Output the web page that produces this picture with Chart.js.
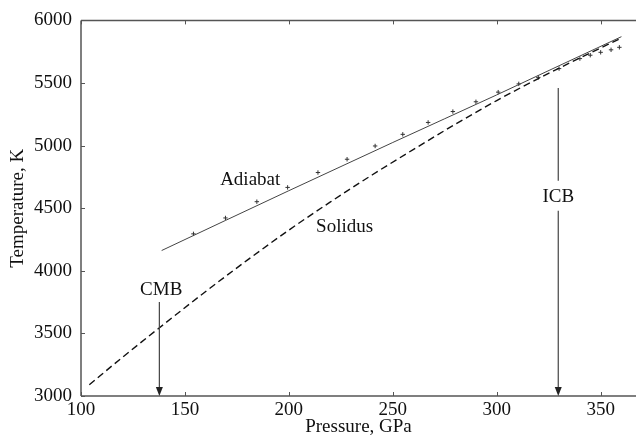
<!DOCTYPE html>
<html>
<head>
<meta charset="utf-8">
<script src="https://cdn.jsdelivr.net/npm/chart.js@4.4.1/dist/chart.umd.min.js"></script>
<style>
  html, body { margin: 0; padding: 0; background: #fff; }
  canvas { display: block; }
</style>
</head>
<body>
<canvas id="chart" width="641" height="438"></canvas>
<script>
// Axis ticks
const xTicks = [100, 150, 200, 250, 300, 350];
const yTicks = [3000, 3500, 4000, 4500, 5000, 5500, 6000];

// Solidus (dashed curve)
const solidusP = [104, 120, 140, 160, 180, 200, 220, 240, 260, 280, 300, 320, 340, 360];
const solidusT = [3090, 3310, 3575, 3835, 4085, 4325, 4550, 4765, 4970, 5170, 5360, 5535, 5700, 5860];

// Adiabat (solid line)
const adiabatP = [138.8, 200, 250, 300, 330, 360];
const adiabatT = [4162, 4640, 5025, 5405, 5638, 5870];

// Adiabat computed points (small crosses)
const pointsP = [154.1, 169.5, 184.6, 199.4, 214.0, 228.0, 241.5, 254.8, 267.0, 278.9, 290.0, 300.7, 310.6, 320, 330, 340, 345, 350, 355, 359];
const pointsT = [4295, 4422, 4552, 4666, 4785, 4891, 4997, 5090, 5185, 5272, 5350, 5427, 5493, 5545, 5615, 5695, 5722, 5745, 5765, 5785];

// Text labels on the plot
const noteText = ['Adiabat', 'Solidus', 'CMB', 'ICB'];
const noteP = [181.4, 226.8, 138.6, 329.6];
const noteT = [4727, 4353, 3843, 4591];

// Boundary arrows: pressure and the temperature spans of each segment
const cmbP = 137.7;
const cmbSpan = [3750, 3000];
const icbP = 329.6;
const icbSpans = [[5460, 4719], [4480, 3000]];

const FONT = "'Liberation Serif', 'Times New Roman', serif";
const toXY = (xs, ys) => xs.map((x, i) => ({ x: x, y: ys[i] }));

// frame, inward ticks, labels and arrows
const decor = {
  id: 'decor',
  afterDatasetsDraw(chart) {
    const { ctx, chartArea: a, scales: { x, y } } = chart;
    ctx.save();
    ctx.strokeStyle = '#555';
    ctx.lineWidth = 1.5;
    ctx.beginPath();
    ctx.moveTo(a.left, a.top); ctx.lineTo(a.right, a.top);
    ctx.moveTo(a.left, a.top); ctx.lineTo(a.left, a.bottom);
    ctx.moveTo(a.left, a.bottom); ctx.lineTo(a.right, a.bottom);
    ctx.stroke();

    ctx.lineWidth = 1;
    ctx.beginPath();
    xTicks.forEach(v => {
      const px = Math.round(x.getPixelForValue(v)) + 0.5;
      ctx.moveTo(px, a.bottom); ctx.lineTo(px, a.bottom - 4);
      ctx.moveTo(px, a.top); ctx.lineTo(px, a.top + 4);
    });
    yTicks.forEach(v => {
      const py = Math.round(y.getPixelForValue(v)) + 0.5;
      ctx.moveTo(a.left, py); ctx.lineTo(a.left + 4, py);
    });
    ctx.stroke();

    // arrows
    ctx.strokeStyle = '#444';
    ctx.fillStyle = '#222';
    ctx.lineWidth = 1.2;
    const seg = (p, t0, t1, head) => {
      const px = x.getPixelForValue(p);
      const y0 = y.getPixelForValue(t0), y1 = y.getPixelForValue(t1);
      ctx.beginPath();
      ctx.moveTo(px, y0); ctx.lineTo(px, head ? y1 - 6 : y1);
      ctx.stroke();
      if (head) {
        ctx.beginPath();
        ctx.moveTo(px, y1);
        ctx.lineTo(px - 3.5, y1 - 9);
        ctx.lineTo(px + 3.5, y1 - 9);
        ctx.closePath();
        ctx.fill();
      }
    };
    seg(cmbP, cmbSpan[0], cmbSpan[1], true);
    seg(icbP, icbSpans[0][0], icbSpans[0][1], false);
    seg(icbP, icbSpans[1][0], icbSpans[1][1], true);

    // text notes
    ctx.fillStyle = '#111';
    ctx.font = '19px ' + FONT;
    ctx.textAlign = 'center';
    ctx.textBaseline = 'middle';
    noteText.forEach((t, i) => {
      ctx.fillText(t, x.getPixelForValue(noteP[i]), y.getPixelForValue(noteT[i]));
    });
    ctx.restore();
  }
};

new Chart(document.getElementById('chart'), {
  type: 'scatter',
  data: {
    datasets: [
      {
        label: 'Solidus',
        data: toXY(solidusP, solidusT),
        showLine: true,
        borderColor: '#111',
        borderWidth: 1.4,
        borderDash: [7, 4],
        pointRadius: 0,
        cubicInterpolationMode: 'monotone'
      },
      {
        label: 'Adiabat',
        data: toXY(adiabatP, adiabatT),
        showLine: true,
        borderColor: '#444',
        borderWidth: 1,
        pointRadius: 0,
        cubicInterpolationMode: 'monotone'
      },
      {
        label: 'Points',
        data: toXY(pointsP, pointsT),
        showLine: false,
        pointStyle: 'cross',
        pointRadius: 2.2,
        borderColor: '#333',
        borderWidth: 1
      }
    ]
  },
  options: {
    responsive: false,
    animation: false,
    layout: { padding: { top: 19, right: 0, left: 0, bottom: 0 } },
    plugins: { legend: { display: false }, tooltip: { enabled: false } },
    scales: {
      x: {
        type: 'linear',
        min: 100,
        max: 367,
        afterBuildTicks: s => { s.ticks = xTicks.map(v => ({ value: v })); },
        afterFit: s => { s.height = 42; },
        grid: { display: false, drawTicks: false },
        border: { display: false },
        ticks: { color: '#111', font: { family: FONT, size: 19 }, padding: 3, maxRotation: 0, callback: v => String(v) },
        title: { display: true, text: 'Pressure, GPa', color: '#111', font: { family: FONT, size: 19 }, padding: { top: 0, bottom: 0 } }
      },
      y: {
        type: 'linear',
        min: 3000,
        max: 6000,
        afterBuildTicks: s => { s.ticks = yTicks.map(v => ({ value: v })); },
        afterFit: s => { s.width = 81; },
        grid: { display: false, drawTicks: false },
        border: { display: false },
        ticks: { color: '#111', font: { family: FONT, size: 19 }, padding: 9, callback: v => String(v) },
        title: { display: true, text: 'Temperature, K', color: '#111', font: { family: FONT, size: 19 }, padding: { top: 7, bottom: 0 } }
      }
    }
  },
  plugins: [decor]
});
</script>
</body>
</html>
